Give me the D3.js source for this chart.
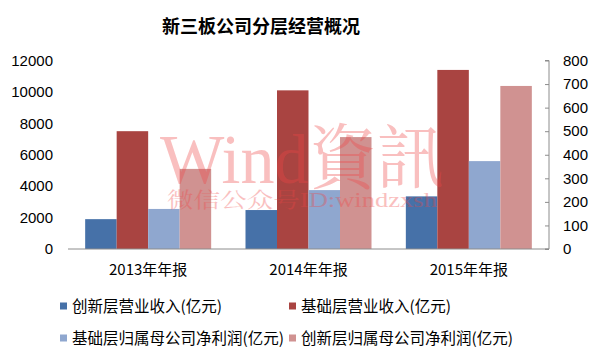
<html>
<head>
<meta charset="utf-8">
<script src="https://d3js.org/d3.v7.min.js"></script>
<style>
  body { margin: 0; background: #fff; }
  text { font-family: "Noto Sans CJK SC", "Liberation Sans", sans-serif; fill: #000; }
  .tick-label { font-family: "Liberation Sans", sans-serif; font-size: 15px; }
  .cat-label { font-size: 15px; }
  .legend-label { font-size: 15.5px; }
  .title { font-size: 18px; font-weight: bold; }
  .wm { font-family: "Liberation Serif", "Noto Serif CJK SC", serif; fill: rgb(240,70,70); opacity: 0.34; }
</style>
</head>
<body>
<svg id="chart" width="600" height="360"></svg>
<script>
// chart values
const categories = ["2013年年报", "2014年年报", "2015年年报"];
const innovRevenue = [1900, 2480, 3350];   // 创新层营业收入 (left axis)
const baseRevenue = [7500, 10100, 11400];  // 基础层营业收入 (left axis)
const baseProfit = [170, 250, 373];        // 基础层归属母公司净利润 (right axis)
const innovProfit = [340, 475, 692];       // 创新层归属母公司净利润 (right axis)
const leftTicks = [0, 2000, 4000, 6000, 8000, 10000, 12000];
const rightTicks = [0, 100, 200, 300, 400, 500, 600, 700, 800];

const series = [
  { name: "创新层营业收入(亿元)", values: innovRevenue, axis: "left", color: "#4671a8" },
  { name: "基础层营业收入(亿元)", values: baseRevenue, axis: "left", color: "#a94441" },
  { name: "基础层归属母公司净利润(亿元)", values: baseProfit, axis: "right", color: "#8fa7cf" },
  { name: "创新层归属母公司净利润(亿元)", values: innovProfit, axis: "right", color: "#d09291" }
];

const svg = d3.select("#chart");
const plotL = 68, plotR = 549, plotT = 60.5, plotB = 249;

const x0 = d3.scaleBand().domain(categories).range([plotL, plotR]).padding(0);
const x1 = d3.scaleBand().domain(series.map(s => s.name))
  .range([0, x0.bandwidth()]).paddingInner(0).paddingOuter(0.545);
const yL = d3.scaleLinear().domain([0, 12000]).range([plotB, plotT]);
const yR = d3.scaleLinear().domain([0, 800]).range([plotB, plotT]);

// title
svg.append("text").attr("class", "title")
  .attr("x", 261).attr("y", 33).attr("text-anchor", "middle")
  .text("新三板公司分层经营概况");

// bars
series.forEach(s => {
  const y = s.axis === "left" ? yL : yR;
  svg.append("g").selectAll("rect")
    .data(s.values)
    .join("rect")
    .attr("x", (d, i) => x0(categories[i]) + x1(s.name))
    .attr("y", d => y(d))
    .attr("width", x1.bandwidth())
    .attr("height", d => plotB - y(d))
    .attr("fill", s.color);
});

// left axis labels
svg.append("g").selectAll("text")
  .data(leftTicks)
  .join("text")
  .attr("class", "tick-label")
  .attr("x", 53).attr("y", d => yL(d))
  .attr("dy", "0.35em").attr("text-anchor", "end")
  .text(d => d);

// right axis
const rAxis = d3.axisLeft(yR).tickValues(rightTicks).tickSize(4).tickFormat("");
const rg = svg.append("g").attr("transform", `translate(${plotR},0)`).call(rAxis);
rg.select(".domain").attr("stroke", "#8c8c8c").attr("d", `M-4,${plotT}H0V${plotB}H-4`);
rg.selectAll(".tick line").attr("stroke", "#8c8c8c");
svg.append("g").selectAll("text")
  .data(rightTicks)
  .join("text")
  .attr("class", "tick-label")
  .attr("x", 563).attr("y", d => yR(d))
  .attr("dy", "0.35em")
  .text(d => d);

// baseline
svg.append("line")
  .attr("x1", plotL).attr("x2", plotR)
  .attr("y1", plotB).attr("y2", plotB)
  .attr("stroke", "#8c8c8c");

// category labels
svg.append("g").selectAll("text")
  .data(categories)
  .join("text")
  .attr("class", "cat-label")
  .attr("x", d => x0(d) + x0.bandwidth() / 2)
  .attr("y", 275).attr("text-anchor", "middle")
  .text(d => d);

// legend
const legendPos = [[60, 306], [289, 306], [60, 338], [289, 338]];
series.forEach((s, i) => {
  const [lx, ly] = legendPos[i];
  svg.append("rect").attr("x", lx).attr("y", ly - 3.5).attr("width", 7).attr("height", 7)
    .attr("fill", s.color);
  svg.append("text").attr("class", "legend-label")
    .attr("x", lx + 12).attr("y", ly).attr("dy", "0.36em")
    .text(s.name);
});

// watermark (one text block, two lines)
const wm = svg.append("text").attr("class", "wm");
wm.append("tspan")
  .attr("x", 160).attr("y", 183)
  .attr("font-size", 70)
  .attr("textLength", 285).attr("lengthAdjust", "spacingAndGlyphs")
  .text("Wind資訊");
wm.append("tspan")
  .attr("x", 167).attr("y", 207)
  .attr("font-size", 21)
  .attr("textLength", 270).attr("lengthAdjust", "spacingAndGlyphs")
  .text("微信公众号ID:windzxsh");
</script>
</body>
</html>
